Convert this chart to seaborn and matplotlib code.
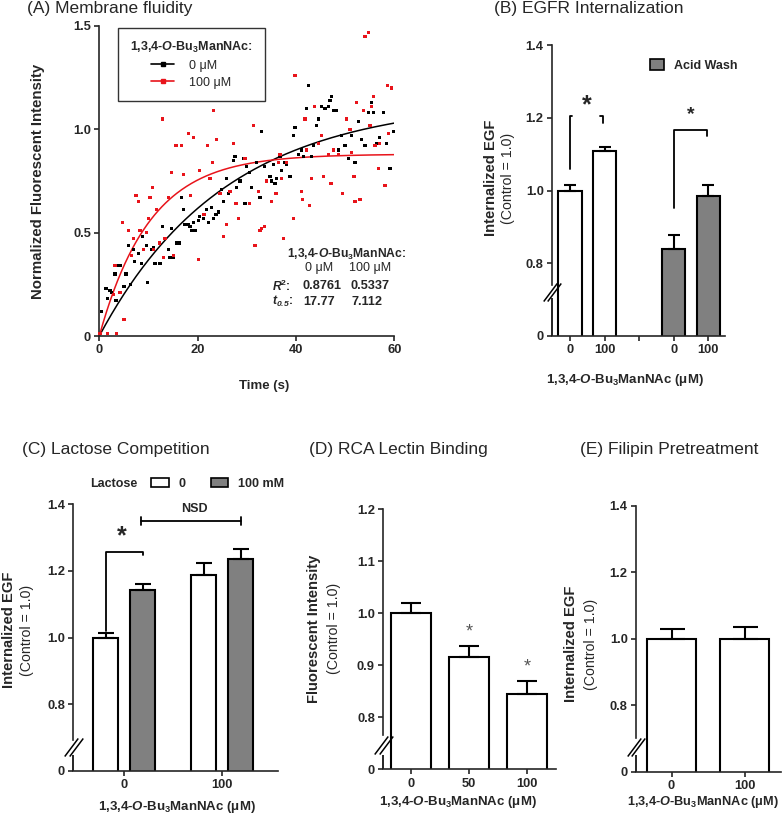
import matplotlib
matplotlib.use("Agg")
import matplotlib.pyplot as plt
import numpy as np
import pandas as pd
import seaborn as sns
from matplotlib import transforms
from matplotlib.lines import Line2D
from matplotlib.patches import Patch

# ---------------- data ----------------
# (A) membrane fluidity, 0 uM
time_0 = [0.47, 1.36, 1.63, 2.17, 2.51, 3.19, 3.39, 3.86, 4.34, 5.02, 5.42, 5.90, 6.37, 6.92,
          7.25, 7.93, 8.61, 8.81, 9.63, 9.83, 10.64, 10.98, 11.32, 12.34, 12.81, 13.36, 14.03,
          14.37, 14.71, 15.05, 15.73, 16.20, 16.75, 17.08, 17.42, 18.10, 18.44, 18.78, 19.12,
          19.46, 20.14, 20.47, 21.15, 21.83, 22.17, 22.85, 23.19, 23.73, 24.20, 24.88, 25.22,
          25.90, 26.24, 26.58, 27.25, 27.59, 27.93, 28.61, 29.29, 29.63, 29.97, 30.64, 30.98,
          32.00, 32.68, 33.02, 33.69, 34.03, 34.71, 35.05, 35.39, 35.73, 36.07, 36.75, 37.08,
          37.76, 38.10, 38.78, 39.46, 39.80, 40.47, 41.15, 41.49, 42.17, 42.51, 43.19, 43.53,
          44.20, 44.54, 45.22, 45.90, 46.58, 46.92, 47.25, 47.59, 48.27, 48.61, 49.29, 49.97,
          50.64, 51.32, 52.00, 52.68, 53.36, 54.03, 54.71, 55.39, 55.73, 56.41, 57.08, 57.76,
          58.44, 59.12, 59.80]
intensity_0 = [0.12, 0.23, 0.18, 0.22, 0.21, 0.30, 0.17, 0.34, 0.34, 0.24, 0.30, 0.44, 0.25, 0.42,
               0.36, 0.40, 0.35, 0.48, 0.44, 0.26, 0.42, 0.43, 0.35, 0.35, 0.53, 0.47, 0.42,
               0.38, 0.52, 0.38, 0.45, 0.45, 0.67, 0.61, 0.54, 0.54, 0.53, 0.51, 0.55,
               0.51, 0.56, 0.58, 0.57, 0.61, 0.55, 0.62, 0.57, 0.59, 0.60, 0.71, 0.65,
               0.76, 0.69, 0.70, 0.85, 0.87, 0.72, 0.75, 0.86, 0.64, 0.82, 0.79, 0.72,
               0.84, 0.67, 0.99, 0.82, 0.75, 0.77, 0.75, 0.83, 0.74, 0.76, 0.87, 0.80,
               0.84, 0.83, 0.77, 0.97, 1.01, 0.88, 0.90, 0.87, 1.10, 1.21, 0.87, 0.92,
               1.02, 1.05, 1.11, 1.10, 1.11, 1.14, 1.16, 1.09, 1.09, 0.90, 0.97, 0.92,
               0.86, 0.97, 0.84, 1.04, 0.95, 0.92, 1.08, 1.13, 1.08, 0.93, 0.96, 1.08,
               0.93, 0.81, 0.99]
# (A) membrane fluidity, 100 uM
time_100 = [0.14, 1.60, 3.50, 2.85, 3.19, 4.20, 4.75, 5.02, 5.90, 6.58, 6.92, 7.46, 7.93, 8.27,
            9.08, 9.63, 9.97, 10.31, 10.85, 10.98, 11.66, 12.20, 12.81, 13.02, 13.36, 14.03,
            14.71, 15.05, 15.59, 16.75, 17.08, 18.10, 18.58, 19.12, 20.14, 20.47, 21.29, 21.97,
            22.51, 22.98, 23.19, 23.86, 24.54, 25.22, 25.90, 26.58, 27.25, 27.80, 28.27, 29.63,
            30.64, 31.32, 31.66, 32.34, 32.68, 33.02, 33.69, 34.03, 35.05, 35.93, 36.41, 36.75,
            37.08, 37.42, 38.10, 39.46, 39.80, 41.15, 41.30, 41.83, 42.17, 42.71, 43.19, 43.86,
            44.54, 45.22, 45.69, 46.58, 47.12, 47.59, 48.61, 49.49, 50.31, 50.98, 51.32, 51.80,
            52.00, 52.34, 53.02, 53.69, 54.03, 54.71, 55.05, 55.39, 55.73, 56.07, 56.75, 57.08,
            58.10, 58.58, 58.78, 59.46]
intensity_100 = [0.01, 0.01, 0.01, 0.20, 0.34, 0.21, 0.55, 0.08, 0.51, 0.39, 0.47, 0.68, 0.65, 0.51,
                 0.42, 0.50, 0.57, 0.67, 0.72, 0.42, 0.61, 0.45, 1.05, 0.38, 0.47, 0.67,
                 0.79, 0.39, 0.92, 0.92, 0.78, 0.98, 0.68, 0.96, 0.37, 0.80, 0.59, 0.92,
                 0.76, 0.84, 1.09, 0.95, 0.69, 0.48, 0.54, 0.70, 0.93, 0.64, 0.57, 0.86,
                 0.64, 1.02, 0.44, 0.70, 0.51, 0.52, 0.53, 0.75, 0.65, 0.69, 0.84, 0.88,
                 0.76, 0.47, 0.84, 0.57, 1.26, 0.70, 0.66, 1.05, 0.90, 0.63, 0.76, 1.11,
                 0.93, 0.97, 0.77, 0.88, 0.74, 0.90, 0.88, 0.69, 1.05, 1.00, 0.89, 0.77,
                 0.65, 1.13, 0.66, 1.09, 1.45, 1.47, 1.02, 1.11, 1.16, 0.92, 0.81, 0.93,
                 0.73, 1.21, 0.98, 1.20]
# one-phase association fits: plateau, half-times and R^2 from the inset
fit_plateau = [1.14, 0.88]
fit_t_half = [17.77, 7.112]
fit_r2 = ["0.8761", "0.5337"]
fit_t_half_text = ["17.77", "7.112"]
dose_labels = ["0 μM", "100 μM"]

# (B) EGFR internalization
egfr_pos = [0, 1, 3, 4]
egfr_group = ["Control", "Control", "Acid Wash", "Acid Wash"]
egfr_mean = [1.0, 1.108, 0.838, 0.986]
egfr_err = [0.015, 0.011, 0.039, 0.030]
egfr_ticklabels = ["0", "100", "", "0", "100"]

# (C) lactose competition
lac_dose = ["0", "0", "100", "100"]
lac_lactose = ["0", "100 mM", "0", "100 mM"]
lac_mean = [1.0, 1.142, 1.189, 1.235]
lac_err = [0.015, 0.020, 0.035, 0.030]

# (D) RCA lectin binding
rca_dose = ["0", "50", "100"]
rca_mean = [1.0, 0.916, 0.845]
rca_err = [0.019, 0.022, 0.024]

# (E) filipin pretreatment
fil_dose = ["0", "100"]
fil_mean = [1.0, 1.0]
fil_err = [0.030, 0.034]

# ---------------- style ----------------
sns.set_style("ticks")
plt.rcParams["font.family"] = ["Liberation Sans", "DejaVu Sans"]
plt.rcParams["mathtext.fontset"] = "custom"
plt.rcParams["mathtext.rm"] = "Liberation Sans"
plt.rcParams["mathtext.it"] = "Liberation Sans:italic"
plt.rcParams["mathtext.bf"] = "Liberation Sans:bold"
plt.rcParams["mathtext.bfit"] = "Liberation Sans:bold:italic"

LW = 1.2
TICK_FS = 9.3
LABEL_FS = 10.6
TITLE_FS = 12.5
XLABEL_FS = 9.5
GRAY = "#808080"
RED = "#e8141b"
XLABEL = r"1,3,4-$\mathbfit{O}$-Bu$_\mathbf{3}$ManNAc (μM)"

W, H = 782, 815
fig = plt.figure(figsize=(W / 100, H / 100), dpi=100)


def px_axes(left, right, bottom, top):
    return fig.add_axes([left / W, 1 - bottom / H, (right - left) / W, (bottom - top) / H])


def base_style(ax):
    sns.despine(ax=ax)
    for s in ("left", "bottom"):
        ax.spines[s].set_linewidth(LW)
    ax.tick_params(width=LW, length=3.5, pad=2.5, labelsize=TICK_FS, direction="out")


def axis_break(ax, ylim, lo, hi):
    ax.spines["left"].set_bounds(hi, ylim[1])
    yt = ax.get_yaxis_transform()
    ax.plot([0, 0], [ylim[0], lo], transform=yt, color="black", lw=LW,
            clip_on=False, solid_capstyle="butt")
    mid = (lo + hi) / 2
    for dx in (-2.2, 2.2):
        tr = transforms.offset_copy(yt, fig=fig, x=dx, y=0, units="dots")
        ax.plot([0], [mid], transform=tr, marker=[(-0.75, -1), (0.75, 1)], ms=13,
                mew=1.1, color="black", clip_on=False, linestyle="none")


def add_errorbars(ax, errs, capsize):
    bars = sorted(ax.patches, key=lambda p: p.get_x())
    for p, e in zip(bars, errs):
        ax.errorbar(p.get_x() + p.get_width() / 2, p.get_height(), yerr=[[0], [e]],
                    fmt="none", ecolor="black", elinewidth=1.5, capsize=capsize,
                    capthick=1.5, zorder=3)


def ylabel_two_lines(ax, bold, normal, xb, xn, y):
    ax.text(xb, y, bold, transform=ax.transAxes, rotation=90, ha="center", va="center",
            fontsize=LABEL_FS, fontweight="bold")
    ax.text(xn, y, normal, transform=ax.transAxes, rotation=90, ha="center", va="center",
            fontsize=10.2)


def xlabel_at(ax, x, y, size=XLABEL_FS):
    ax.text(x, y, XLABEL, transform=ax.transAxes, ha="center", va="center",
            fontsize=size, fontweight="bold")


def bar_yaxis(ax, ylim, ticks):
    ax.set_ylim(ylim)
    labels = ["0"] + [f"{t:.1f}" for t in ticks[1:]]
    ax.set_yticks(ticks, labels, fontweight="bold")


# ---------------- (A) membrane fluidity ----------------
axA = px_axes(99.3, 394.3, 336, 26)
df_a = pd.concat([
    pd.DataFrame({"time": time_0, "value": intensity_0, "dose": dose_labels[0]}),
    pd.DataFrame({"time": time_100, "value": intensity_100, "dose": dose_labels[1]}),
])
palette_a = {dose_labels[0]: "black", dose_labels[1]: RED}
sns.scatterplot(data=df_a, x="time", y="value", hue="dose", palette=palette_a, marker="s",
                s=5, linewidth=0, legend=False, ax=axA, clip_on=False, zorder=3)
t_fit = np.linspace(0, 60, 241)
for plateau, t_half, lab in zip(fit_plateau, fit_t_half, dose_labels):
    y_fit = plateau * (1 - np.exp(-np.log(2) / t_half * t_fit))
    sns.lineplot(x=t_fit, y=y_fit, color=palette_a[lab], lw=1.1, ax=axA)
axA.set_xlim(0, 60)
axA.set_ylim(0, 1.5)
axA.set_xticks([0, 20, 40, 60], ["0", "20", "40", "60"], fontweight="bold")
axA.set_yticks([0, 0.5, 1.0, 1.5], ["0", "0.5", "1.0", "1.5"], fontweight="bold")
base_style(axA)
axA.set_xlabel("Time (s)", fontsize=XLABEL_FS, fontweight="bold")
axA.xaxis.set_label_coords(0.56, -0.142)
axA.set_ylabel("Normalized Fluorescent Intensity", fontsize=10.8, fontweight="bold")
axA.yaxis.set_label_coords(-0.184, 0.5)

handles = [Line2D([], [], color=palette_a[l], marker="s", ms=2.5, lw=1.2) for l in dose_labels]
legA = axA.legend(handles, dose_labels, title=r"1,3,4-$\mathbfit{O}$-Bu$_\mathbf{3}$ManNAc:",
                  loc="upper left", bbox_to_anchor=(0.063, 0.994), borderaxespad=0,
                  fontsize=9, title_fontproperties={"weight": "bold", "size": 9},
                  frameon=True, fancybox=False, edgecolor="black", borderpad=0.95,
                  handlelength=1.8, handletextpad=1.2, labelspacing=0.4)
legA.get_frame().set_linewidth(1.0)
legA._legend_box.align = "center"

# fit table
axA.text(38.1, 0.395, r"1,3,4-$\mathbfit{O}$-Bu$_\mathbf{3}$ManNAc:", fontsize=8.7,
         fontweight="bold", ha="left", va="center", clip_on=False)
for x, lab in zip([44.7, 55.1], dose_labels):
    axA.text(x, 0.328, lab, fontsize=9, ha="center", va="center", clip_on=False)
axA.text(35.1, 0.242, r"$\mathbfit{R}^\mathbf{2}$:", fontsize=8.7, fontweight="bold",
         ha="left", va="center")
axA.text(35.1, 0.166, r"$\mathbfit{t}_\mathbfit{0.5}$:", fontsize=8.7, fontweight="bold",
         ha="left", va="center")
for x, r2, th in zip([45.3, 55.1], fit_r2, fit_t_half_text):
    axA.text(x, 0.242, r2, fontsize=9.2, fontweight="bold", ha="center", va="center")
    axA.text(x - 0.6, 0.166, th, fontsize=9.2, fontweight="bold", ha="center", va="center")

# ---------------- (B) EGFR internalization ----------------
axB = px_axes(552, 725, 336, 45)
sns.barplot(x=egfr_pos, y=egfr_mean, hue=egfr_group, native_scale=True, dodge=False,
            palette={"Control": "white", "Acid Wash": GRAY}, width=0.675, saturation=1,
            edgecolor="black", linewidth=1.5, errorbar=None, legend=False, ax=axB)
add_errorbars(axB, egfr_err, 4.3)
axB.set_xlim(-0.52, 4.48)
axB.set_xticks(range(5), egfr_ticklabels, fontweight="bold")
bar_yaxis(axB, (0.6, 1.4), [0.6, 0.8, 1.0, 1.2, 1.4])
base_style(axB)
axis_break(axB, (0.6, 1.4), 0.704, 0.74)
ylabel_two_lines(axB, "Internalized EGF", "(Control = 1.0)", -0.353, -0.254, 0.543)
xlabel_at(axB, 0.42, -0.151)
# significance marks
axB.plot([0, 0, 0.06], [1.058, 1.204, 1.204], color="black", lw=1.3)
axB.plot([0.86, 0.96, 0.96], [1.204, 1.204, 1.185], color="black", lw=1.3)
axB.text(0.48, 1.235, "*", fontsize=18, fontweight="bold", ha="center", va="center")
axB.plot([3, 3, 3.95, 3.95], [0.953, 1.165, 1.165, 1.149], color="black", lw=1.3)
axB.text(3.5, 1.208, "*", fontsize=14, fontweight="bold", ha="center", va="center")
axB.legend([Patch(facecolor=GRAY, edgecolor="black", lw=1.2)], ["Acid Wash"],
           loc="upper left", bbox_to_anchor=(0.5, 0.99), frameon=False,
           prop={"weight": "bold", "size": 9}, handlelength=1.1, handleheight=0.9)

# ---------------- (C) lactose competition ----------------
axC = px_axes(73.3, 278, 770.7, 504.3)
df_c = pd.DataFrame({"dose": lac_dose, "lactose": lac_lactose, "mean": lac_mean})
sns.barplot(data=df_c, x="dose", y="mean", hue="lactose", order=["0", "100"],
            hue_order=["0", "100 mM"], palette={"0": "white", "100 mM": GRAY},
            width=0.76, gap=0.32, saturation=1, edgecolor="black", linewidth=1.5,
            errorbar=None, legend=False, ax=axC)
add_errorbars(axC, lac_err, 6)
axC.set_xlim(-0.52, 1.57)
axC.set_xticks([0, 1], ["0", "100"], fontweight="bold")
bar_yaxis(axC, (0.6, 1.4), [0.6, 0.8, 1.0, 1.2, 1.4])
base_style(axC)
axis_break(axC, (0.6, 1.4), 0.648, 0.692)
ylabel_two_lines(axC, "Internalized EGF", "(Control = 1.0)", -0.314, -0.226, 0.528)
xlabel_at(axC, 0.505, -0.135)
axC.plot([-0.19, -0.19, 0.19, 0.19], [1.02, 1.257, 1.257, 1.247], color="black", lw=1.3)
axC.text(-0.03, 1.305, "*", fontsize=18, fontweight="bold", ha="center", va="center")
axC.plot([0.167, 1.194], [1.35, 1.35], color="black", lw=1.3)
for xe in (0.167, 1.194):
    axC.plot([xe, xe], [1.338, 1.362], color="black", lw=1.3)
axC.text(0.72, 1.385, "NSD", fontsize=9, fontweight="bold", ha="center", va="center")
axC.text(0.2, 1.076, "Lactose", transform=axC.transAxes, fontsize=9, fontweight="bold",
         ha="center", va="center")
axC.legend([Patch(facecolor="white", edgecolor="black", lw=1.2),
            Patch(facecolor=GRAY, edgecolor="black", lw=1.2)], ["0", "100 mM"],
           loc="center left", bbox_to_anchor=(0.38, 1.076), ncol=2, frameon=False,
           prop={"weight": "bold", "size": 9}, handlelength=1.4, handleheight=0.7,
           handletextpad=0.8, columnspacing=2.0, borderaxespad=0, borderpad=0)

# ---------------- (D) RCA lectin binding ----------------
axD = px_axes(383.3, 556, 769.3, 509.3)
sns.barplot(x=rca_dose, y=rca_mean, order=rca_dose, color="white", width=0.68, saturation=1,
            edgecolor="black", linewidth=1.5, errorbar=None, ax=axD)
add_errorbars(axD, rca_err, 7)
axD.set_xlim(-0.48, 2.5)
axD.set_xticks(range(3), rca_dose, fontweight="bold")
bar_yaxis(axD, (0.7, 1.2), [0.7, 0.8, 0.9, 1.0, 1.1, 1.2])
base_style(axD)
axis_break(axD, (0.7, 1.2), 0.7275, 0.766)
ylabel_two_lines(axD, "Fluorescent Intensity", "(Control = 1.0)", -0.40, -0.285, 0.54)
xlabel_at(axD, 0.43, -0.125)
for x, m, e in zip([1, 2], rca_mean[1:], rca_err[1:]):
    axD.text(x, m + e + 0.027, "*", fontsize=13, color="#555555", ha="center", va="center")

# ---------------- (E) filipin pretreatment ----------------
axE = px_axes(636, 781, 771.7, 505.7)
sns.barplot(x=fil_dose, y=fil_mean, order=fil_dose, color="white", width=0.66, saturation=1,
            edgecolor="black", linewidth=1.5, errorbar=None, ax=axE)
add_errorbars(axE, fil_err, 9)
axE.set_xlim(-0.487, 1.5)
axE.set_xticks(range(2), fil_dose, fontweight="bold")
bar_yaxis(axE, (0.6, 1.4), [0.6, 0.8, 1.0, 1.2, 1.4])
base_style(axE)
axis_break(axE, (0.6, 1.4), 0.65, 0.70)
ylabel_two_lines(axE, "Internalized EGF", "(Control = 1.0)", -0.45, -0.31, 0.48)
xlabel_at(axE, 0.465, -0.113, size=9.2)

for ax in (axB, axC, axD, axE):
    ax.set_xlabel("")
    ax.set_ylabel("")

# ---------------- panel titles ----------------
for x, y, title in [(27, 9, "(A) Membrane fluidity"), (494, 9, "(B) EGFR Internalization"),
                    (21.7, 449, "(C) Lactose Competition"), (309, 449, "(D) RCA Lectin Binding"),
                    (580, 449, "(E) Filipin Pretreatment")]:
    fig.text(x / W, 1 - y / H, title, fontsize=TITLE_FS, ha="left", va="center")

fig.savefig("out.png", dpi=100)
